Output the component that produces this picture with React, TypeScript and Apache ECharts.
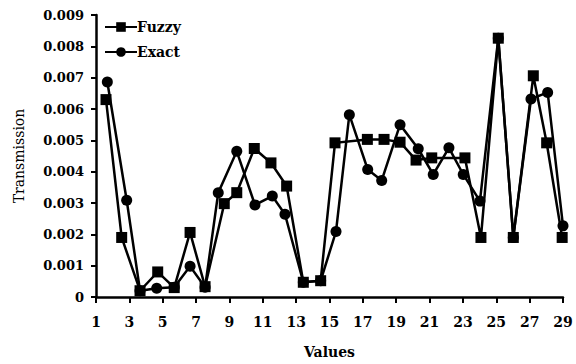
import React, { useEffect, useRef } from "react";
import * as echarts from "echarts";

const fuzzyX = [1.6, 2.54, 3.64, 4.7, 5.69, 6.64, 7.54, 8.69, 9.44, 10.49, 11.49, 12.43, 13.43, 14.47, 15.33, 17.27, 18.27, 19.23, 20.19, 21.13, 23.12, 24.08, 25.12, 26.02, 27.22, 28.02, 28.95];
const fuzzyY = [0.0063, 0.0019, 0.0002, 0.0008, 0.0003, 0.00206, 0.00033, 0.00298, 0.00333, 0.00474, 0.00428, 0.00354, 0.00047, 0.00052, 0.00492, 0.00503, 0.00503, 0.00494, 0.00437, 0.00444, 0.00444, 0.0019, 0.00826, 0.0019, 0.00706, 0.00492, 0.0019];

const exactX = [1.68, 2.84, 3.64, 4.64, 5.69, 6.64, 7.54, 8.33, 9.44, 10.53, 11.57, 12.33, 13.43, 14.47, 15.39, 16.19, 17.29, 18.13, 19.23, 20.32, 21.22, 22.16, 23.02, 24.02, 25.12, 26.02, 27.08, 28.08, 29.0];
const exactY = [0.00686, 0.00309, 0.0002, 0.00028, 0.00031, 0.00098, 0.00031, 0.00333, 0.00465, 0.00294, 0.00322, 0.00264, 0.00047, 0.00052, 0.00209, 0.00582, 0.00407, 0.00372, 0.0055, 0.00473, 0.00391, 0.00476, 0.00391, 0.00306, 0.00826, 0.0019, 0.00632, 0.00653, 0.00227];

const seriesNames = ["Fuzzy", "Exact"];
const xTitle = "Values";
const yTitle = "Transmission";

const FONT = "DejaVu Serif";

export default function App() {
  const ref = useRef<HTMLDivElement>(null);
  useEffect(() => {
    if (!ref.current) return;
    const chart = echarts.init(ref.current, null, { renderer: "svg" });
    const zip = (xs: number[], ys: number[]) => xs.map((x, i) => [x, ys[i]]);
    const lineStyle = { color: "#000", width: 2.5, join: "miter", miterLimit: 10 } as any;
    chart.setOption({
      animation: false,
      backgroundColor: "#fff",
      grid: { left: 96, right: 13, top: 15, bottom: 66, containLabel: false },
      legend: {
        orient: "vertical",
        left: 99,
        top: 15,
        itemWidth: 32,
        itemHeight: 12,
        itemGap: 11,
        textStyle: { fontFamily: FONT, fontSize: 14, fontWeight: "bold", color: "#000", padding: [0, 0, 0, -5] },
        data: seriesNames,
      },
      xAxis: {
        type: "value",
        min: 1,
        max: 29,
        interval: 2,
        name: xTitle,
        nameLocation: "middle",
        nameGap: 48,
        nameTextStyle: { fontFamily: FONT, fontSize: 14, fontWeight: "bold", color: "#000" },
        axisLine: { show: true, onZero: false, lineStyle: { color: "#000", width: 2.5 } },
        axisTick: { show: true, length: 6, lineStyle: { color: "#000", width: 2 } },
        axisLabel: { fontFamily: FONT, fontSize: 14, fontWeight: "bold", color: "#000", margin: 18 },
        splitLine: { show: false },
      },
      yAxis: {
        type: "value",
        min: 0,
        max: 0.009,
        interval: 0.001,
        name: yTitle,
        nameLocation: "middle",
        nameGap: 70,
        nameTextStyle: { fontFamily: FONT, fontSize: 14, color: "#000" },
        axisLine: { show: true, lineStyle: { color: "#000", width: 2.5 } },
        axisTick: { show: true, length: 5, lineStyle: { color: "#000", width: 2 } },
        axisLabel: { fontFamily: FONT, fontSize: 13, fontWeight: "bold", color: "#000", margin: 12 },
        splitLine: { show: false },
      },
      series: [
        {
          name: seriesNames[0],
          type: "line",
          data: zip(fuzzyX, fuzzyY),
          symbol: "rect",
          symbolSize: 11,
          showAllSymbol: true,
          itemStyle: { color: "#000" },
          lineStyle,
          clip: false,
        },
        {
          name: seriesNames[1],
          type: "line",
          data: zip(exactX, exactY),
          symbol: "circle",
          symbolSize: 11,
          showAllSymbol: true,
          itemStyle: { color: "#000" },
          lineStyle,
          clip: false,
        },
      ],
    });
    return () => chart.dispose();
  }, []);
  return <div ref={ref} style={{ width: 576, height: 364, position: "absolute", left: 0, top: 0 }} />;
}
